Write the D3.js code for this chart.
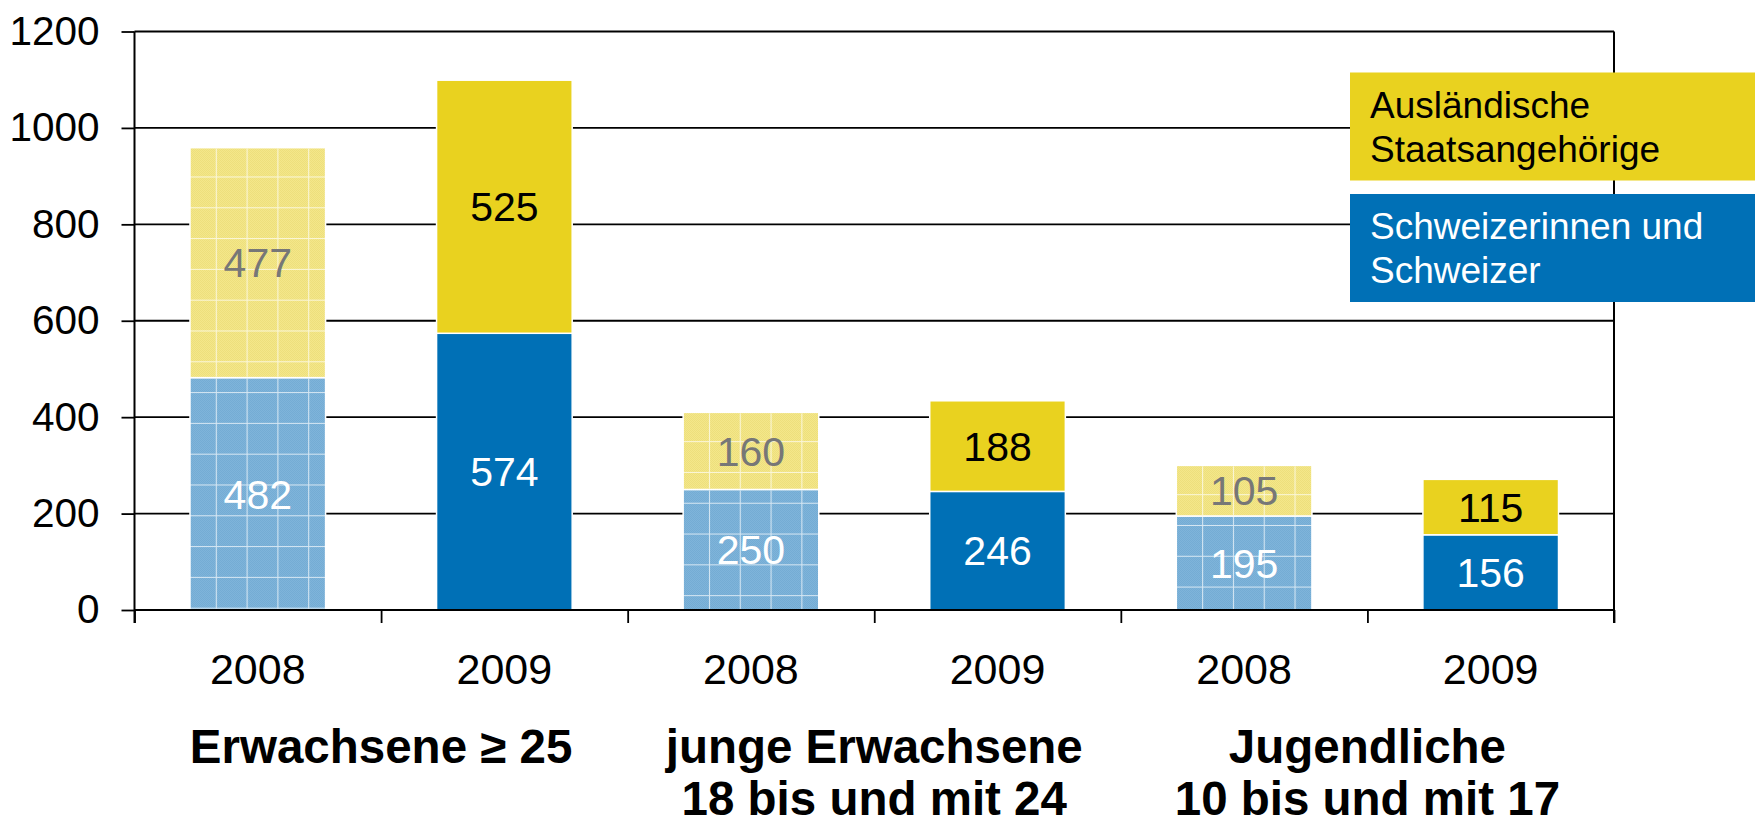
<!DOCTYPE html>
<meta charset="utf-8">
<style>
    body { margin: 0; background: #fff; }
    svg text { font-family: "Liberation Sans", Arial, sans-serif; }
    .domain { display: none; }
</style>
<svg width="1755" height="825"></svg>
<script src="https://cdn.jsdelivr.net/npm/d3@7"></script>
<script>

    // data
    var groups = [["Erwachsene ≥ 25"], ["junge Erwachsene", "18 bis und mit 24"], ["Jugendliche", "10 bis und mit 17"]];
    var years = ["2008", "2009", "2008", "2009", "2008", "2009"];
    var schweizer = [482, 574, 250, 246, 195, 156];
    var auslaender = [477, 525, 160, 188, 105, 115];
    var yTicks = [0, 200, 400, 600, 800, 1000, 1200];
    var legendLabels = [["Ausländische", "Staatsangehörige"], ["Schweizerinnen und", "Schweizer"]];

    var svg = d3.select("svg");
    var plotLeft = 134.5, plotRight = 1614, plotTop = 31.5, plotBottom = 610;

    var blue = "#0070b6", yellow = "#e9d21f",
        lightBlue = "#7fb4da", lightYellow = "#f4e78a";

    var x = d3.scaleBand()
        .domain(d3.range(years.length))
        .range([plotLeft, plotRight])
        .paddingInner(0.45)
        .paddingOuter(0.225);

    var xb = d3.scaleLinear().domain([0, years.length]).range([plotLeft, plotRight]);

    var y = d3.scaleLinear().domain([0, 1200]).range([plotBottom, plotTop]);

    var defs = svg.append("defs");

    // grid pattern for the 2008 (lighter) bars, one per bar so the grid starts at the bar
    function addGrid(id, x0, y0) {
        var p = defs.append("pattern")
            .attr("id", id)
            .attr("patternUnits", "userSpaceOnUse")
            .attr("width", 30.8).attr("height", 30.8)
            .attr("x", x0 - 5).attr("y", y0 - 2);
        p.append("path")
            .attr("d", "M0,0.5H30.8M0.5,0V30.8")
            .attr("stroke", "#fff")
            .attr("stroke-opacity", 0.7)
            .attr("stroke-width", 1.1);
    }

    ["t1", "t2"].forEach(function (id, i) {
        var p = defs.append("pattern")
            .attr("id", id)
            .attr("patternUnits", "userSpaceOnUse")
            .attr("width", 2).attr("height", 2);
        p.append("rect").attr("width", 2).attr("height", 2).attr("fill", i ? lightBlue : lightYellow);
        p.append("rect").attr("width", 1).attr("height", 1)
            .attr("fill", i ? "#74acd4" : "#eddf7c");
        p.append("rect").attr("x", 1).attr("y", 1).attr("width", 1).attr("height", 1)
            .attr("fill", i ? "#74acd4" : "#eddf7c");
    });

    // horizontal grid lines
    svg.append("g")
        .selectAll("line")
        .data(yTicks)
        .enter().append("line")
        .attr("x1", plotLeft).attr("x2", plotRight)
        .attr("y1", d => y(d)).attr("y2", d => y(d))
        .attr("stroke", "#000")
        .attr("stroke-width", 1.8);

    // bars
    var bars = years.map(function (yr, i) {
        return {i: i, yr: yr, s: schweizer[i], a: auslaender[i]};
    });

    var bar = svg.append("g").selectAll("g")
        .data(bars)
        .enter().append("g");

    bar.each(function (d) {
        var g = d3.select(this);
        var light = d.yr === "2008";
        var x0 = x(d.i), w = x.bandwidth();
        var segs = [
            {v0: 0, v1: d.s, fill: light ? "url(#t2)" : blue, txt: d.s, color: "#fff"},
            {v0: d.s, v1: d.s + d.a, fill: light ? "url(#t1)" : yellow, txt: d.a, color: light ? "#777" : "#000"}
        ];
        if (light) addGrid("g" + d.i, x0, y(d.s + d.a));
        segs.forEach(function (s) {
            g.append("rect")
                .attr("x", x0).attr("width", w)
                .attr("y", y(s.v1)).attr("height", y(s.v0) - y(s.v1))
                .attr("fill", s.fill)
                .attr("stroke", "#fff")
                .attr("stroke-width", 1.5);
            if (light) {
                g.append("rect")
                    .attr("x", x0).attr("width", w)
                    .attr("y", y(s.v1) + 1).attr("height", y(s.v0) - y(s.v1) - 2)
                    .attr("fill", "url(#g" + d.i + ")");
            }
            g.append("text")
                .attr("x", x0 + w / 2)
                .attr("y", (y(s.v0) + y(s.v1)) / 2)
                .attr("dy", "0.36em")
                .attr("text-anchor", "middle")
                .attr("font-size", 41)
                .attr("fill", s.color)
                .text(s.txt);
        });
    });

    // y axis
    var yAxis = svg.append("g")
        .attr("transform", "translate(" + plotLeft + ",0)")
        .call(d3.axisLeft(y).tickValues(yTicks).tickFormat(d3.format("d")).tickSize(13).tickPadding(22));
    yAxis.selectAll(".tick line").attr("stroke", "#000").attr("stroke-width", 1.8);
    yAxis.selectAll("text").attr("font-size", 40.5).attr("fill", "#000")
        .attr("font-family", "Liberation Sans, Arial, sans-serif");

    // x axis with ticks on the band boundaries
    var xAxis = svg.append("g")
        .attr("transform", "translate(0," + plotBottom + ")")
        .call(d3.axisBottom(xb).tickValues(d3.range(years.length + 1)).tickSize(13).tickFormat(""));
    xAxis.selectAll(".tick line").attr("stroke", "#000").attr("stroke-width", 1.8);

    svg.append("line")
        .attr("x1", plotLeft).attr("x2", plotLeft)
        .attr("y1", plotTop).attr("y2", plotBottom + 13)
        .attr("stroke", "#000").attr("stroke-width", 2);
    svg.append("line")
        .attr("x1", plotRight).attr("x2", plotRight)
        .attr("y1", plotTop).attr("y2", plotBottom + 13)
        .attr("stroke", "#000").attr("stroke-width", 2);
    svg.append("line")
        .attr("x1", plotLeft).attr("x2", plotRight)
        .attr("y1", plotBottom).attr("y2", plotBottom)
        .attr("stroke", "#000").attr("stroke-width", 2);

    // year labels
    svg.append("g").selectAll("text")
        .data(years)
        .enter().append("text")
        .attr("x", (d, i) => x(i) + x.bandwidth() / 2)
        .attr("y", 684)
        .attr("text-anchor", "middle")
        .attr("font-size", 43)
        .text(d => d);

    // group labels
    svg.append("g").selectAll("text")
        .data(groups)
        .enter().append("text")
        .attr("x", (d, i) => xb(i * 2 + 1))
        .attr("y", 763)
        .attr("text-anchor", "middle")
        .attr("font-size", 47.5)
        .attr("font-weight", "bold")
        .selectAll("tspan")
        .data(d => d)
        .enter().append("tspan")
        .attr("x", function () { return d3.select(this.parentNode).attr("x"); })
        .attr("dy", (d, i) => i ? 52 : 0)
        .text(d => d);

    // legend
    var legend = svg.append("g").selectAll("g")
        .data(legendLabels)
        .enter().append("g")
        .attr("transform", (d, i) => "translate(1350," + (72.5 + i * 121.5) + ")");

    legend.append("rect")
        .attr("width", 405).attr("height", 108)
        .attr("fill", (d, i) => i ? blue : yellow);

    legend.append("text")
        .attr("font-size", 37)
        .attr("fill", (d, i) => i ? "#fff" : "#000")
        .selectAll("tspan")
        .data(d => d)
        .enter().append("tspan")
        .attr("x", 20)
        .attr("y", (d, i) => 45 + i * 44)
        .text(d => d);

</script>
